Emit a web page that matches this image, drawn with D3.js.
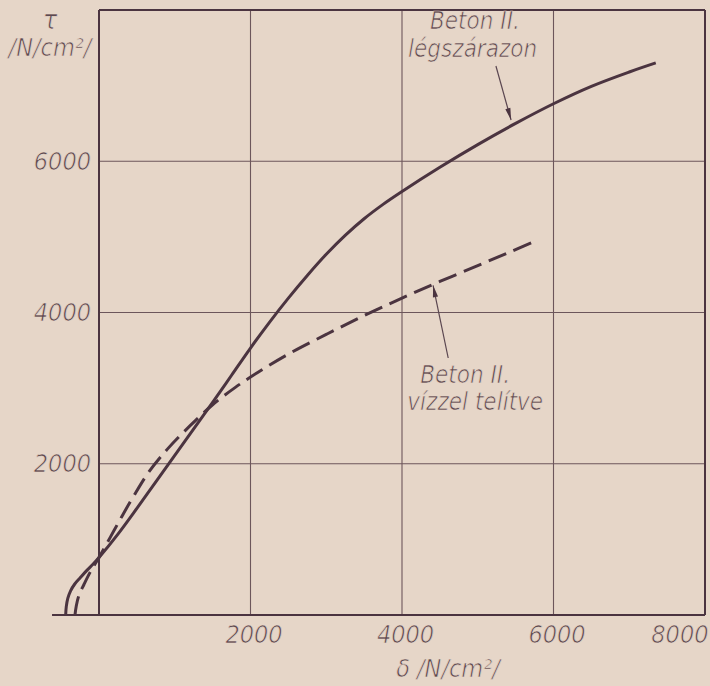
<!DOCTYPE html>
<html>
<head>
<meta charset="utf-8">
<script src="https://cdn.jsdelivr.net/npm/d3@7"></script>
<style>
  html, body { margin: 0; padding: 0; background: #e6d6c8; }
  svg { display: block; }
  .lbl { font-family: "DejaVu Sans Condensed", "DejaVu Sans", sans-serif; font-style: italic; fill: #5c4a50;
         stroke: #e6d6c8; stroke-width: 0.7px; }
</style>
</head>
<body>
<div id="chart"></div>
<script>
// tau - sigma curves, Beton II.
// air dry (solid)
let dryX = [-440, -432, -412, -375, -320, -250, -160, -80, 0, 250, 500, 750, 1000, 1250, 1500, 1750, 2000, 2250, 2500, 2750, 3000, 3250, 3500, 3750, 4000, 4500, 5000, 5500, 6000, 6500, 7000, 7350]
let dryY = [0, 110, 220, 320, 410, 490, 590, 670, 760, 1070, 1410, 1760, 2110, 2460, 2810, 3170, 3530, 3870, 4190, 4490, 4770, 5020, 5240, 5430, 5600, 5920, 6220, 6500, 6760, 6990, 7180, 7300]
// saturated with water (dashed)
let wetX = [-317, -300, -265, -200, -120, 0, 150, 300, 450, 650, 900, 1200, 1500, 1800, 2100, 2500, 3000, 3500, 4000, 4500, 5000, 5400, 5730]
let wetY = [0, 120, 260, 400, 560, 760, 1030, 1300, 1560, 1880, 2190, 2500, 2780, 3010, 3210, 3450, 3710, 3960, 4190, 4410, 4620, 4790, 4930]

let gridTicks = [2000, 4000, 6000]
let xTickLabels = ["2000", "4000", "6000", "8000"]
let yTickLabels = ["2000", "4000", "6000"]

let W = 710, H = 686
let ink = "#4b3440"

let svg = d3.select("#chart").append("svg")
  .attr("width", W).attr("height", H)

let x = d3.scaleLinear().domain([0, 8000]).range([99, 705])
let y = d3.scaleLinear().domain([0, 8000]).range([615, 10])

// grid
svg.selectAll(".gx").data(gridTicks).enter().append("line")
  .attr("x1", d => x(d)).attr("x2", d => x(d))
  .attr("y1", y(0)).attr("y2", y(8000))
  .attr("stroke", "#6c565b").attr("stroke-width", 1.1)
svg.selectAll(".gy").data(gridTicks).enter().append("line")
  .attr("x1", x(0)).attr("x2", x(8000))
  .attr("y1", d => y(d)).attr("y2", d => y(d))
  .attr("stroke", "#6c565b").attr("stroke-width", 1.1)

// frame
svg.append("line").attr("x1", x(0)).attr("x2", x(0)).attr("y1", y(0)).attr("y2", y(8000)).attr("stroke", ink).attr("stroke-width", 2)
svg.append("line").attr("x1", x(0)).attr("x2", x(8000)).attr("y1", y(8000)).attr("y2", y(8000)).attr("stroke", ink).attr("stroke-width", 2)
svg.append("line").attr("x1", x(8000)).attr("x2", x(8000)).attr("y1", y(0)).attr("y2", y(8000)).attr("stroke", ink).attr("stroke-width", 2)
svg.append("line").attr("x1", x(-620)).attr("x2", x(8000)).attr("y1", y(0)).attr("y2", y(0)).attr("stroke", ink).attr("stroke-width", 2)

// axes (labels only)
let xAxis = svg.append("g").attr("transform", "translate(0," + y(0) + ")")
  .call(d3.axisBottom(x).tickValues([2000, 4000, 6000, 8000]).tickSize(0).tickPadding(10)
    .tickFormat((d, i) => xTickLabels[i]))
xAxis.select(".domain").remove()
xAxis.selectAll("text").attr("class", "lbl").attr("font-size", 25).attr("dx", 3)
  .attr("text-anchor", d => d == 8000 ? "end" : "middle")

let yAxis = svg.append("g").attr("transform", "translate(" + x(0) + ",0)")
  .call(d3.axisLeft(y).tickValues(gridTicks).tickSize(0).tickPadding(8)
    .tickFormat((d, i) => yTickLabels[i]))
yAxis.select(".domain").remove()
yAxis.selectAll("text").attr("class", "lbl").attr("font-size", 25)

// axis titles
svg.append("text").attr("class", "lbl").attr("x", 50).attr("y", 29).attr("text-anchor", "middle").attr("font-size", 27).text("τ")
svg.append("text").attr("class", "lbl").attr("x", 50).attr("y", 56).attr("text-anchor", "middle").attr("font-size", 25).text("/N/cm²/")
svg.append("text").attr("class", "lbl").attr("x", 448).attr("y", 677).attr("text-anchor", "middle").attr("font-size", 25).text("δ /N/cm²/")

// curves
let line = d3.line().x(d => x(d[0])).y(d => y(d[1])).curve(d3.curveCatmullRom.alpha(0.5))
svg.append("path").datum(d3.zip(dryX, dryY)).attr("d", line)
  .attr("fill", "none").attr("stroke", ink).attr("stroke-width", 3)
svg.append("path").datum(d3.zip(wetX, wetY)).attr("d", line)
  .attr("fill", "none").attr("stroke", ink).attr("stroke-width", 3)
  .attr("stroke-dasharray", "19,8")

// annotations
function arrow(x1, y1, x2, y2) {
  svg.append("line").attr("x1", x1).attr("y1", y1).attr("x2", x2).attr("y2", y2)
    .attr("stroke", "#5a4650").attr("stroke-width", 1.2)
  let a = Math.atan2(y2 - y1, x2 - x1), L = 12, w = 2.6
  let p = [[x2, y2],
    [x2 - L * Math.cos(a) + w * Math.sin(a), y2 - L * Math.sin(a) - w * Math.cos(a)],
    [x2 - L * Math.cos(a) - w * Math.sin(a), y2 - L * Math.sin(a) + w * Math.cos(a)]]
  svg.append("path").attr("d", "M" + p.join("L") + "Z").attr("fill", "#4b3440")
}

svg.append("text").attr("class", "lbl").attr("x", x(4370)).attr("y", 29).attr("font-size", 24).text("Beton II.")
svg.append("text").attr("class", "lbl").attr("x", x(4080)).attr("y", 57).attr("font-size", 24).text("légszárazon")
arrow(x(5240), 66, x(5440), y(6545))

svg.append("text").attr("class", "lbl").attr("x", x(4240)).attr("y", 383).attr("font-size", 24).text("Beton II.")
svg.append("text").attr("class", "lbl").attr("x", x(4070)).attr("y", 410).attr("font-size", 24).text("vízzel telítve")
arrow(x(4610), 358, x(4410), y(4360))
</script>
</body>
</html>
